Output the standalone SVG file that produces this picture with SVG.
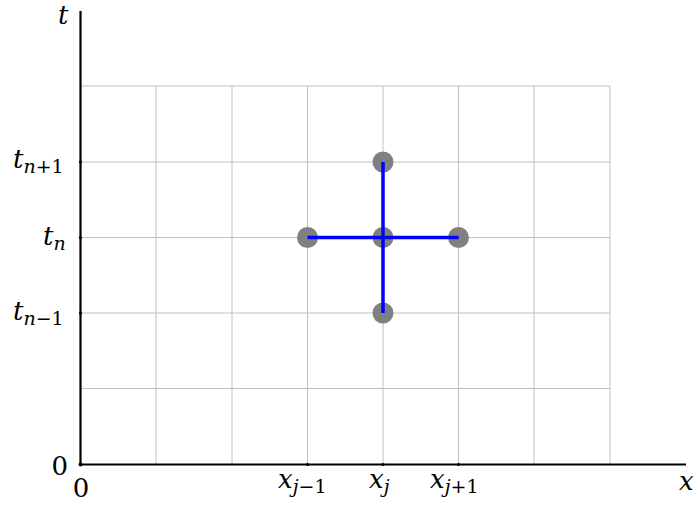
<svg xmlns="http://www.w3.org/2000/svg" width="696" height="506" viewBox="0 0 696 506">
<style>
.grid{stroke:#c0c0c0;stroke-width:1;fill:none}
.axis{stroke:#000;stroke-width:2.2;fill:none}
.tick{fill:#000}
text{font-family:"DejaVu Serif",serif}
.lbl{font-style:italic;font-size:26px;fill:#000}
.num{font-size:26px;fill:#000}
.sub{font-size:19px}
.up{font-style:normal}
.node{fill:#808080}
.edge{stroke:#0000ff;stroke-width:3.5;fill:none}
</style>
<g id="grid">
<path class="grid" d="M156,86V464M232,86V464M307.5,86V464M383,86V464M458.5,86V464M534,86V464M610,86V464M80,86H610M80,162H610M80,237.5H610M80,313H610M80,388.5H610"/>
</g>
<g id="axes">
<path class="axis" d="M80.5,11V464.5H686"/>
<circle class="tick" cx="80.5" cy="162" r="1.6"/>
<circle class="tick" cx="80.5" cy="237.5" r="1.6"/>
<circle class="tick" cx="80.5" cy="313" r="1.6"/>
<circle class="tick" cx="80.5" cy="464.5" r="2"/>
<circle class="tick" cx="307.5" cy="464.5" r="1.6"/>
<circle class="tick" cx="383" cy="464.5" r="1.6"/>
<circle class="tick" cx="458.5" cy="464.5" r="1.6"/>
<text class="lbl" x="58" y="24">t</text>
<text class="lbl" x="679" y="490">x</text>
<text class="lbl" x="13" y="168">t<tspan class="sub" dy="5">n<tspan class="up">+1</tspan></tspan></text>
<text class="lbl" x="43" y="245">t<tspan class="sub" dy="5">n</tspan></text>
<text class="lbl" x="13" y="320">t<tspan class="sub" dy="5">n<tspan class="up">−1</tspan></tspan></text>
<text class="num" x="68" y="475" text-anchor="end">0</text>
<text class="num" x="81" y="497" text-anchor="middle">0</text>
<text class="lbl" x="278" y="488">x<tspan class="sub" dy="5">j<tspan class="up">−1</tspan></tspan></text>
<text class="lbl" x="369" y="488">x<tspan class="sub" dy="5">j</tspan></text>
<text class="lbl" x="430" y="488">x<tspan class="sub" dy="5">j<tspan class="up">+1</tspan></tspan></text>
</g>
<g id="node-center"><circle class="node" cx="383" cy="237.5" r="10.5"/></g>
<g id="node-left"><circle class="node" cx="307.5" cy="237.5" r="10.5"/></g>
<g id="node-right"><circle class="node" cx="458.5" cy="237.5" r="10.5"/></g>
<g id="node-top"><circle class="node" cx="383" cy="162" r="10.5"/></g>
<g id="node-bottom"><circle class="node" cx="383" cy="313" r="10.5"/></g>
<g id="connectors">
<path class="edge" d="M307.5,237.5H458.5M383,162V313"/>
</g>
</svg>
